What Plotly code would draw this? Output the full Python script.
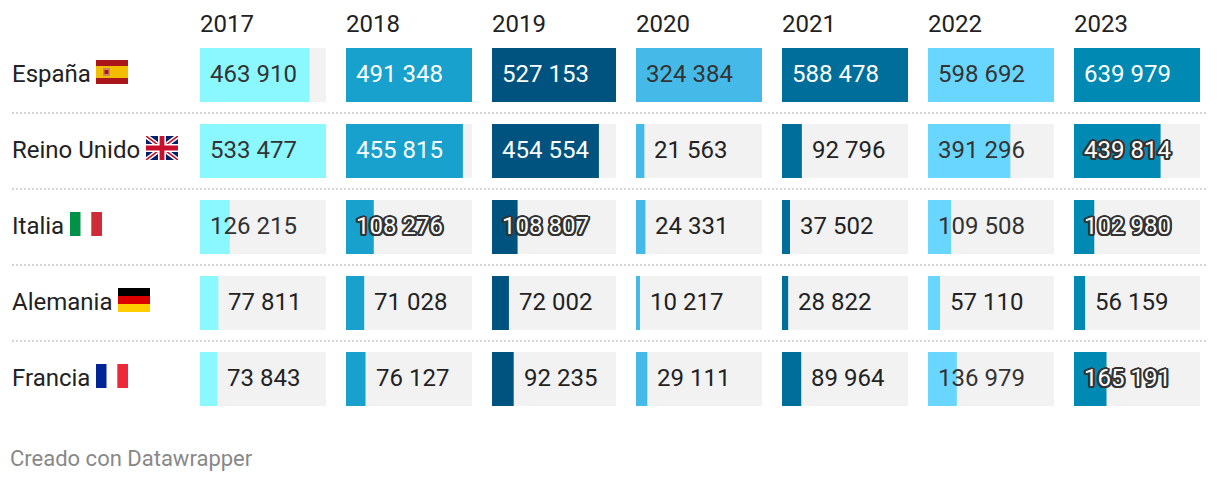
import base64
import plotly.graph_objects as go

years = ["2017", "2018", "2019", "2020", "2021", "2022", "2023"]
countries = ["España", "Reino Unido", "Italia", "Alemania", "Francia"]
v2017 = [463910, 533477, 126215, 77811, 73843]
v2018 = [491348, 455815, 108276, 71028, 76127]
v2019 = [527153, 454554, 108807, 72002, 92235]
v2020 = [324384, 21563, 24331, 10217, 29111]
v2021 = [588478, 92796, 37502, 28822, 89964]
v2022 = [598692, 391296, 109508, 57110, 136979]
v2023 = [639979, 439814, 102980, 56159, 165191]
series = [v2017, v2018, v2019, v2020, v2021, v2022, v2023]
colors = ["#8BF8FF", "#18A1CD", "#00537F", "#45BAE8", "#006E9A", "#69D6FF", "#0089B3"]
dark_column = [False, True, True, False, True, False, True]
footer = "Creado con Datawrapper"

W, H = 1220, 482
FONT = "Roboto"
SIZE = 24
col_left = [200, 346, 492, 636, 782, 928, 1074]
col_width = [126, 126, 124, 126, 126, 126, 126]
ROW_TOP, ROW_STEP = 37, 76
HALO = ", ".join(f"{a}px {b}px 0 #333" for a, b in
                 [(2, 0), (-2, 0), (0, 2), (0, -2), (1.5, 1.5), (-1.5, 1.5), (1.5, -1.5), (-1.5, -1.5),
                  (1, 0), (-1, 0), (0, 1), (0, -1), (2, 1), (-2, 1), (2, -1), (-2, -1)])
PLAIN = dict(showarrow=False, borderpad=0, borderwidth=0, xanchor="left", yanchor="middle")


def svg_uri(body):
    svg = f'<svg xmlns="http://www.w3.org/2000/svg" width="32" height="24" viewBox="0 0 32 24">{body}</svg>'
    return "data:image/svg+xml;base64," + base64.b64encode(svg.encode()).decode()


flags = {
    "España": ('<rect width="32" height="24" fill="#AA151B"/><rect y="6" width="32" height="12" fill="#F1BF00"/>'
               '<rect x="7" y="8" width="7" height="8" fill="#C8866A"/><rect x="8.5" y="10" width="4" height="4" fill="#AD1519"/>'),
    "Reino Unido": ('<rect width="32" height="24" fill="#012169"/>'
                    '<path d="M0 0L32 24M32 0L0 24" stroke="#fff" stroke-width="4.6"/>'
                    '<path d="M0 0L32 24M32 0L0 24" stroke="#C8102E" stroke-width="1.6"/>'
                    '<path d="M16 0V24M0 12H32" stroke="#fff" stroke-width="8"/>'
                    '<path d="M16 0V24M0 12H32" stroke="#C8102E" stroke-width="4.8"/>'),
    "Italia": ('<rect width="10.7" height="24" fill="#009246"/><rect x="10.7" width="10.6" height="24" fill="#fff"/>'
               '<rect x="21.3" width="10.7" height="24" fill="#CE2B37"/>'),
    "Alemania": ('<rect width="32" height="8" fill="#000"/><rect y="8" width="32" height="8" fill="#DD0000"/>'
                 '<rect y="16" width="32" height="8" fill="#FFCE00"/>'),
    "Francia": ('<rect width="10.7" height="24" fill="#002395"/><rect x="10.7" width="10.6" height="24" fill="#fff"/>'
                '<rect x="21.3" width="10.7" height="24" fill="#ED2939"/>'),
}
flag_left = [96, 146, 70, 118, 96]

fig = go.Figure()
annotations, shapes, images = [], [], []
layout_axes = {}


def fmt(v):
    return f"{v:,}".replace(",", " ")


for i, (year, vals, color) in enumerate(zip(years, series, colors)):
    suffix = "" if i == 0 else str(i + 1)
    vmax = max(vals)
    fig.add_trace(go.Bar(x=[vmax] * len(countries), y=countries, orientation="h", marker_color="#F2F2F2",
                         marker_line_width=0, xaxis=f"x{suffix}", yaxis="y", hoverinfo="skip", showlegend=False))
    fig.add_trace(go.Bar(x=vals, y=countries, orientation="h", marker_color=color, marker_line_width=0,
                         xaxis=f"x{suffix}", yaxis="y", name=year, showlegend=False))
    layout_axes[f"xaxis{suffix}"] = dict(
        domain=[col_left[i] / W, (col_left[i] + col_width[i]) / W], range=[0, vmax],
        visible=False, fixedrange=True, anchor="y")
    annotations.append(dict(text=year, xref="paper", yref="paper", x=col_left[i] / W, y=1 - 24 / H,
                            font=dict(family=FONT, size=SIZE, color="#222222"), **PLAIN))
    for c, v in zip(countries, vals):
        bar_px = v / vmax * col_width[i]
        inside = v >= 100000
        font = dict(family=FONT, size=SIZE, color="#222222")
        if inside and not dark_column[i]:
            font["color"] = "#333333"
        elif inside and bar_px >= 100:
            font["color"] = "#FFFFFF"
        elif inside:
            font.update(color="#FFFFFF", shadow=HALO)
        annotations.append(dict(text=fmt(v), xref=f"x{suffix}", yref="y", x=0 if inside else v, y=c,
                                xshift=10, yshift=1, font=font, align="left", **PLAIN))

for r, c in enumerate(countries):
    cy = ROW_TOP + ROW_STEP * r + ROW_STEP / 2
    annotations.append(dict(text=c, xref="paper", yref="paper", x=12 / W, y=1 - (cy - 1) / H,
                            font=dict(family=FONT, size=SIZE, color="#222222"), **PLAIN))
    images.append(dict(source=svg_uri(flags[c]), xref="paper", yref="paper", x=flag_left[r] / W,
                       y=1 - (cy - 15) / H, sizex=32 / W, sizey=24 / H, xanchor="left", yanchor="top",
                       sizing="stretch", layer="above"))
    if r > 0:
        ly = 1 - (ROW_TOP + ROW_STEP * r) / H
        shapes.append(dict(type="line", xref="paper", yref="paper", x0=12 / W, x1=1208 / W, y0=ly, y1=ly,
                           line=dict(color="#D4D4D4", width=2, dash="2px,2px")))

annotations.append(dict(text=footer, xref="paper", yref="paper", x=10 / W, y=1 - 458 / H,
                        font=dict(family=FONT, size=22, color="#888888"), **PLAIN))

fig.update_layout(
    width=W, height=H, autosize=False, margin=dict(l=0, r=0, t=0, b=0, pad=0),
    paper_bgcolor="white", plot_bgcolor="white", barmode="overlay", bargap=22 / 76,
    showlegend=False, annotations=annotations, shapes=shapes, images=images,
    yaxis=dict(domain=[1 - (ROW_TOP + 5 * ROW_STEP) / H, 1 - ROW_TOP / H], visible=False, fixedrange=True,
               type="category", categoryorder="array", categoryarray=countries, autorange="reversed"),
    **layout_axes,
)
fig.write_html("out.html", config=dict(displayModeBar=False),
               post_script="document.body.style.margin='0';document.body.style.overflow='hidden';")
